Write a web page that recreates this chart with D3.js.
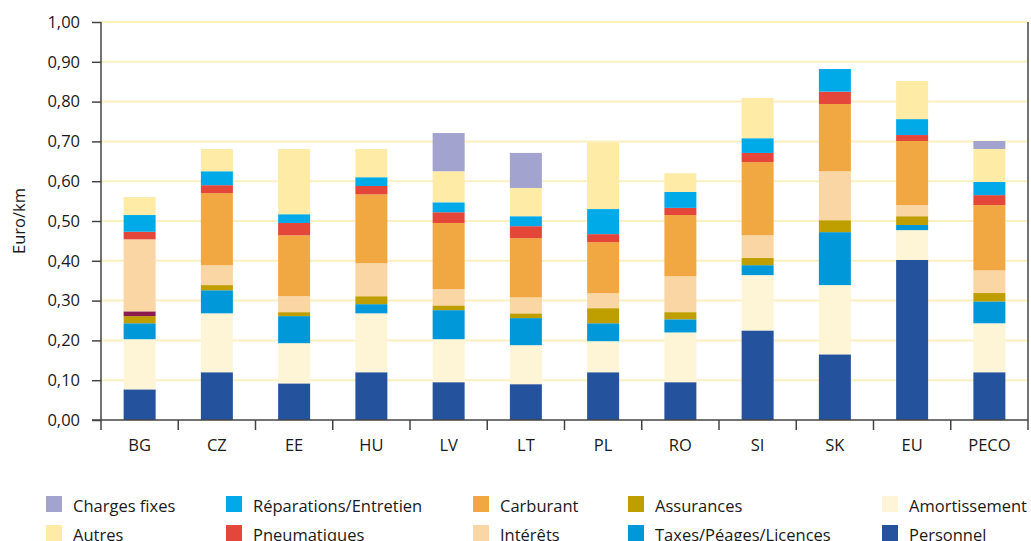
<!DOCTYPE html>
<html lang="fr">
<head>
  <meta charset="UTF-8">
  <title>Coûts Euro/km</title>
  <script src="https://d3js.org/d3.v7.min.js"></script>
  <style>
    body { margin: 0; background: #fff; }
    text { font-family: "Open Sans", sans-serif; fill: #1a1a1a; }
    .grid line { stroke: #fcefc0; stroke-width: 2; }
    .axis path, .axis line { stroke: #444; stroke-width: 1.5; }
  </style>
</head>
<body>
<script>
  // pays
  const categories = ['BG', 'CZ', 'EE', 'HU', 'LV', 'LT', 'PL', 'RO', 'SI', 'SK', 'EU', 'PECO'];

  // segments, de bas en haut (Euro/km)
  const personnel     = [0.077, 0.120, 0.092, 0.120, 0.095, 0.090, 0.120, 0.095, 0.225, 0.165, 0.402, 0.120];
  const amortissement = [0.126, 0.148, 0.101, 0.148, 0.108, 0.098, 0.078, 0.125, 0.139, 0.174, 0.075, 0.123];
  const taxes         = [0.040, 0.058, 0.068, 0.023, 0.073, 0.068, 0.045, 0.033, 0.025, 0.133, 0.013, 0.055];
  const assurances    = [0.018, 0.013, 0.010, 0.020, 0.012, 0.012, 0.038, 0.018, 0.018, 0.030, 0.022, 0.021];
  const divers        = [0.012, 0, 0, 0, 0, 0, 0, 0, 0, 0, 0, 0]; // segment non légendé (BG)
  const interets      = [0.181, 0.050, 0.040, 0.083, 0.041, 0.040, 0.038, 0.090, 0.057, 0.123, 0.028, 0.057];
  const carburant     = [0, 0.181, 0.153, 0.173, 0.166, 0.149, 0.128, 0.154, 0.184, 0.169, 0.161, 0.164];
  const pneumatiques  = [0.019, 0.020, 0.031, 0.021, 0.027, 0.030, 0.020, 0.018, 0.023, 0.031, 0.015, 0.025];
  const reparations   = [0.042, 0.035, 0.022, 0.022, 0.025, 0.025, 0.063, 0.040, 0.037, 0.057, 0.040, 0.033];
  const autres        = [0.045, 0.056, 0.164, 0.071, 0.078, 0.071, 0.168, 0.047, 0.101, 0, 0.096, 0.083];
  const chargesFixes  = [0, 0, 0, 0, 0.096, 0.088, 0, 0, 0, 0, 0, 0.020];

  const yTicks = [0, 0.1, 0.2, 0.3, 0.4, 0.5, 0.6, 0.7, 0.8, 0.9, 1.0];

  const series = [
    { key: 'personnel', name: 'Personnel', color: '#25529c', values: personnel },
    { key: 'amortissement', name: 'Amortissement', color: '#fef5d6', values: amortissement },
    { key: 'taxes', name: 'Taxes/Péages/Licences', color: '#0098d9', values: taxes },
    { key: 'assurances', name: 'Assurances', color: '#bf9f00', values: assurances },
    { key: 'divers', name: null, color: '#8b1a4f', values: divers },
    { key: 'interets', name: 'Intérêts', color: '#fad6a5', values: interets },
    { key: 'carburant', name: 'Carburant', color: '#f1a842', values: carburant },
    { key: 'pneumatiques', name: 'Pneumatiques', color: '#e5463a', values: pneumatiques },
    { key: 'reparations', name: 'Réparations/Entretien', color: '#00aae9', values: reparations },
    { key: 'autres', name: 'Autres', color: '#fdeba6', values: autres },
    { key: 'chargesFixes', name: 'Charges fixes', color: '#a2a3cf', values: chargesFixes }
  ];

  // ordre de la légende (2 lignes x 5 colonnes)
  const legendOrder = [
    'chargesFixes', 'reparations', 'carburant', 'assurances', 'amortissement',
    'autres', 'pneumatiques', 'interets', 'taxes', 'personnel'
  ];

  const width = 1031, height = 541;
  const mLeft = 101, mRight = 1028, mTop = 22, mBottom = 420;
  const fontSize = '16.5px';

  const table = categories.map((c, i) => {
    const row = { cat: c };
    series.forEach(s => { row[s.key] = s.values[i]; });
    return row;
  });

  const stacked = d3.stack().keys(series.map(s => s.key))(table);

  const x = d3.scaleBand()
    .domain(categories)
    .range([mLeft, mRight])
    .paddingInner(0.586)
    .paddingOuter(0.293);

  const xEdge = d3.scaleBand().domain(categories).range([mLeft, mRight]).padding(0);

  const y = d3.scaleLinear().domain([0, 1]).range([mBottom, mTop]);

  const svg = d3.select('body').append('svg')
    .attr('width', width)
    .attr('height', height);

  // grille
  svg.append('g').attr('class', 'grid')
    .selectAll('line')
    .data(yTicks.slice(1))
    .enter().append('line')
    .attr('x1', mLeft).attr('x2', mRight)
    .attr('y1', d => y(d)).attr('y2', d => y(d));

  // barres
  const color = d3.scaleOrdinal().domain(series.map(s => s.key)).range(series.map(s => s.color));

  svg.append('g')
    .selectAll('g')
    .data(stacked)
    .enter().append('g')
    .attr('fill', d => color(d.key))
    .selectAll('rect')
    .data(d => d)
    .enter().append('rect')
    .attr('x', d => x(d.data.cat))
    .attr('width', x.bandwidth())
    .attr('y', d => y(d[1]))
    .attr('height', d => y(d[0]) - y(d[1]));

  // axe Y
  const fmt = d3.format('.2f');
  const yAxis = svg.append('g')
    .attr('class', 'axis')
    .attr('transform', `translate(${mLeft},0)`)
    .call(d3.axisLeft(y).tickValues(yTicks).tickSize(9).tickPadding(12)
      .tickFormat(d => fmt(d).replace('.', ',')));
  yAxis.select('.domain').attr('d', `M0,${mTop}V${mBottom}`);
  yAxis.selectAll('text').style('font-size', fontSize).attr('fill', '#1a1a1a');

  // bord droit
  svg.append('line')
    .attr('x1', mRight).attr('x2', mRight)
    .attr('y1', mTop).attr('y2', mBottom)
    .attr('stroke', '#444').attr('stroke-width', 1.5);

  // axe X
  svg.append('line')
    .attr('x1', mLeft - 9).attr('x2', mRight)
    .attr('y1', mBottom).attr('y2', mBottom)
    .attr('stroke', '#444').attr('stroke-width', 1.5);

  const edges = categories.map(c => xEdge(c)).concat([mRight]);
  svg.append('g')
    .selectAll('line')
    .data(edges)
    .enter().append('line')
    .attr('x1', d => d).attr('x2', d => d)
    .attr('y1', mBottom).attr('y2', mBottom + 10)
    .attr('stroke', '#444').attr('stroke-width', 1.5);

  svg.append('g')
    .selectAll('text')
    .data(categories)
    .enter().append('text')
    .attr('x', d => x(d) + x.bandwidth() / 2)
    .attr('y', 451)
    .attr('text-anchor', 'middle')
    .style('font-size', fontSize)
    .text(d => d);

  // titre Y
  svg.append('text')
    .attr('transform', `translate(25,${(mTop + mBottom) / 2}) rotate(-90)`)
    .attr('text-anchor', 'middle')
    .style('font-size', fontSize)
    .text('Euro/km');

  // légende
  const colX = [46, 226, 473, 628, 882];
  const rowY = [496, 525];
  const legend = svg.append('g')
    .selectAll('g')
    .data(legendOrder.map(k => series.find(s => s.key === k)))
    .enter().append('g')
    .attr('transform', (d, i) => `translate(${colX[i % 5]},${rowY[Math.floor(i / 5)]})`);

  legend.append('rect')
    .attr('width', 16).attr('height', 16)
    .attr('fill', d => d.color);

  legend.append('text')
    .attr('x', 27).attr('y', 15.5)
    .style('font-size', fontSize)
    .text(d => d.name);
</script>
</body>
</html>
